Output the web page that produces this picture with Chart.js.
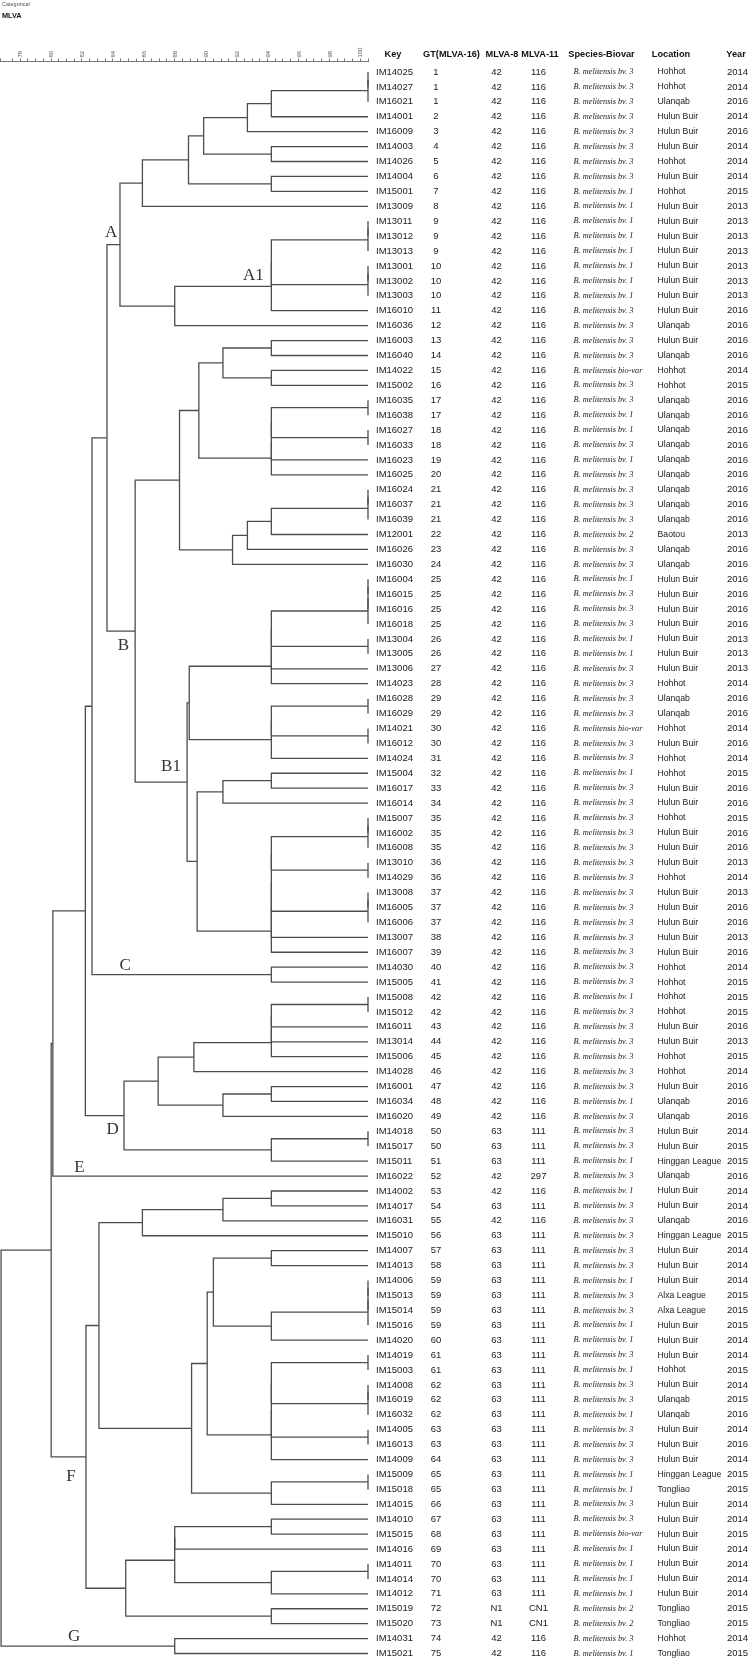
<!DOCTYPE html>
<html>
<head>
<meta charset="utf-8">
<script src="https://cdn.jsdelivr.net/npm/chart.js@4.4.1/dist/chart.umd.min.js"></script>
<style>
  html, body { margin: 0; padding: 0; background: #fff; }
  canvas { display: block; }
</style>
</head>
<body>
<canvas id="myChart" width="750" height="1660"></canvas>
<script>
// ---------------- data ----------------
const keys = ['IM14025','IM14027','IM16021','IM14001','IM16009','IM14003','IM14026','IM14004','IM15001','IM13009',
  'IM13011','IM13012','IM13013','IM13001','IM13002','IM13003','IM16010','IM16036','IM16003','IM16040',
  'IM14022','IM15002','IM16035','IM16038','IM16027','IM16033','IM16023','IM16025','IM16024','IM16037',
  'IM16039','IM12001','IM16026','IM16030','IM16004','IM16015','IM16016','IM16018','IM13004','IM13005',
  'IM13006','IM14023','IM16028','IM16029','IM14021','IM16012','IM14024','IM15004','IM16017','IM16014',
  'IM15007','IM16002','IM16008','IM13010','IM14029','IM13008','IM16005','IM16006','IM13007','IM16007',
  'IM14030','IM15005','IM15008','IM15012','IM16011','IM13014','IM15006','IM14028','IM16001','IM16034',
  'IM16020','IM14018','IM15017','IM15011','IM16022','IM14002','IM14017','IM16031','IM15010','IM14007',
  'IM14013','IM14006','IM15013','IM15014','IM15016','IM14020','IM14019','IM15003','IM14008','IM16019',
  'IM16032','IM14005','IM16013','IM14009','IM15009','IM15018','IM14015','IM14010','IM15015','IM14016',
  'IM14011','IM14014','IM14012','IM15019','IM15020','IM14031','IM15021'];

const gtTypes = [1,1,1,2,3,4,5,6,7,8, 9,9,9,10,10,10,11,12,13,14, 15,16,17,17,18,18,19,20,21,21,
  21,22,23,24,25,25,25,25,26,26, 27,28,29,29,30,30,31,32,33,34, 35,35,35,36,36,37,37,37,38,39,
  40,41,42,42,43,44,45,46,47,48, 49,50,50,51,52,53,54,55,56,57, 58,59,59,59,59,60,61,61,62,62,
  62,63,63,64,65,65,66,67,68,69, 70,70,71,72,73,74,75];

const mlva8 = ['42','42','42','42','42','42','42','42','42','42', '42','42','42','42','42','42','42','42','42','42',
  '42','42','42','42','42','42','42','42','42','42', '42','42','42','42','42','42','42','42','42','42',
  '42','42','42','42','42','42','42','42','42','42', '42','42','42','42','42','42','42','42','42','42',
  '42','42','42','42','42','42','42','42','42','42', '42','63','63','63','42','42','63','42','63','63',
  '63','63','63','63','63','63','63','63','63','63', '63','63','63','63','63','63','63','63','63','63',
  '63','63','63','N1','N1','42','42'];

const mlva11 = ['116','116','116','116','116','116','116','116','116','116', '116','116','116','116','116','116','116','116','116','116',
  '116','116','116','116','116','116','116','116','116','116', '116','116','116','116','116','116','116','116','116','116',
  '116','116','116','116','116','116','116','116','116','116', '116','116','116','116','116','116','116','116','116','116',
  '116','116','116','116','116','116','116','116','116','116', '116','111','111','111','297','116','111','116','111','111',
  '111','111','111','111','111','111','111','111','111','111', '111','111','111','111','111','111','111','111','111','111',
  '111','111','111','CN1','CN1','116','116'];

const biovars = ['bv. 3','bv. 3','bv. 3','bv. 3','bv. 3','bv. 3','bv. 3','bv. 3','bv. 1','bv. 1',
  'bv. 1','bv. 1','bv. 1','bv. 1','bv. 1','bv. 1','bv. 3','bv. 3','bv. 3','bv. 3',
  'bio-var','bv. 3','bv. 3','bv. 1','bv. 1','bv. 3','bv. 1','bv. 3','bv. 3','bv. 3',
  'bv. 3','bv. 2','bv. 3','bv. 3','bv. 1','bv. 3','bv. 3','bv. 3','bv. 1','bv. 1',
  'bv. 3','bv. 3','bv. 3','bv. 3','bio-var','bv. 3','bv. 3','bv. 1','bv. 3','bv. 3',
  'bv. 3','bv. 3','bv. 3','bv. 3','bv. 3','bv. 3','bv. 3','bv. 3','bv. 3','bv. 3',
  'bv. 3','bv. 3','bv. 1','bv. 3','bv. 3','bv. 3','bv. 3','bv. 3','bv. 3','bv. 1',
  'bv. 3','bv. 3','bv. 3','bv. 1','bv. 3','bv. 1','bv. 3','bv. 3','bv. 3','bv. 3',
  'bv. 3','bv. 1','bv. 3','bv. 3','bv. 1','bv. 1','bv. 3','bv. 1','bv. 3','bv. 3',
  'bv. 1','bv. 3','bv. 3','bv. 3','bv. 1','bv. 1','bv. 3','bv. 3','bio-var','bv. 1',
  'bv. 1','bv. 1','bv. 1','bv. 2','bv. 2','bv. 3','bv. 1'];

const locations = ['Hohhot','Hohhot','Ulanqab','Hulun Buir','Hulun Buir','Hulun Buir','Hohhot','Hulun Buir','Hohhot','Hulun Buir',
  'Hulun Buir','Hulun Buir','Hulun Buir','Hulun Buir','Hulun Buir','Hulun Buir','Hulun Buir','Ulanqab','Hulun Buir','Ulanqab',
  'Hohhot','Hohhot','Ulanqab','Ulanqab','Ulanqab','Ulanqab','Ulanqab','Ulanqab','Ulanqab','Ulanqab',
  'Ulanqab','Baotou','Ulanqab','Ulanqab','Hulun Buir','Hulun Buir','Hulun Buir','Hulun Buir','Hulun Buir','Hulun Buir',
  'Hulun Buir','Hohhot','Ulanqab','Ulanqab','Hohhot','Hulun Buir','Hohhot','Hohhot','Hulun Buir','Hulun Buir',
  'Hohhot','Hulun Buir','Hulun Buir','Hulun Buir','Hohhot','Hulun Buir','Hulun Buir','Hulun Buir','Hulun Buir','Hulun Buir',
  'Hohhot','Hohhot','Hohhot','Hohhot','Hulun Buir','Hulun Buir','Hohhot','Hohhot','Hulun Buir','Ulanqab',
  'Ulanqab','Hulun Buir','Hulun Buir','Hinggan League','Ulanqab','Hulun Buir','Hulun Buir','Ulanqab','Hinggan League','Hulun Buir',
  'Hulun Buir','Hulun Buir','Alxa League','Alxa League','Hulun Buir','Hulun Buir','Hulun Buir','Hohhot','Hulun Buir','Ulanqab',
  'Ulanqab','Hulun Buir','Hulun Buir','Hulun Buir','Hinggan League','Tongliao','Hulun Buir','Hulun Buir','Hulun Buir','Hulun Buir',
  'Hulun Buir','Hulun Buir','Hulun Buir','Tongliao','Tongliao','Hohhot','Tongliao'];

const years = [2014,2014,2016,2014,2016,2014,2014,2014,2015,2013, 2013,2013,2013,2013,2013,2013,2016,2016,2016,2016,
  2014,2015,2016,2016,2016,2016,2016,2016,2016,2016, 2016,2013,2016,2016,2016,2016,2016,2016,2013,2013,
  2013,2014,2016,2016,2014,2016,2014,2015,2016,2016, 2015,2016,2016,2013,2014,2013,2016,2016,2013,2016,
  2014,2015,2015,2015,2016,2013,2015,2014,2016,2016, 2016,2014,2015,2015,2016,2014,2014,2016,2015,2014,
  2014,2014,2015,2015,2015,2014,2014,2015,2014,2015, 2016,2014,2016,2014,2015,2015,2014,2014,2015,2014,
  2014,2014,2014,2015,2015,2014,2015];

// dendrogram merges: [name, left, right, similarity %]; numbers are leaf rows (1 = top)
const merges = [
  ['m1',1,2,100],['m2','m1',3,100],['m3','m2',4,93.75],['m4','m3',5,92.2],['m5',6,7,93.75],
  ['m6','m4','m5',89.37],['m7',8,9,93.75],['m8','m6','m7',88.39],['m9','m8',10,85.41],
  ['m10',11,12,100],['m11','m10',13,100],['m12',14,15,100],['m13','m12',16,100],
  ['m14','m11','m13',93.75],['m15','m14',17,93.75],['m16','m15',18,87.5],['m17','m9','m16',83.96],
  ['m18',19,20,93.75],['m19',21,22,93.75],['m20','m18','m19',90.62],['m21',23,24,100],['m22',25,26,100],
  ['m23','m21','m22',93.75],['m24','m23',27,93.75],['m25','m24',28,93.75],['m26','m20','m25',89.06],
  ['m27',29,30,100],['m28','m27',31,100],['m29','m28',32,93.75],['m30','m29',33,92.2],['m31','m30',34,91.24],
  ['m32','m26','m31',87.81],
  ['m33',35,36,100],['m34','m33',37,100],['m35','m34',38,100],['m36',39,40,100],['m37','m35','m36',93.75],
  ['m38','m37',41,93.75],['m39','m38',42,93.75],['m40',43,44,100],['m41',45,46,100],['m42','m40','m41',93.75],
  ['m43','m42',47,93.75],['m44','m39','m43',88.44],['m45',48,49,93.75],['m46','m45',50,90.62],
  ['m47',51,52,100],['m48','m47',53,100],['m49',54,55,100],['m50',56,57,100],['m51','m50',58,100],
  ['m52','m48','m49',93.75],['m53','m52','m51',93.75],['m54','m53',59,93.75],['m55','m54',60,93.75],
  ['m56','m46','m55',88.95],['m57','m44','m56',88.3],['m58','m32','m57',84.94],['m59','m17','m58',83.12],
  ['m60',61,62,93.75],['m61','m59','m60',82.15],
  ['m62',63,64,100],['m63','m62',65,93.75],['m64','m63',66,93.75],['m65','m64',67,93.75],['m66','m65',68,88.74],
  ['m67',69,70,93.75],['m68','m67',71,90.62],['m69','m66','m68',86.43],['m70',72,73,100],['m71','m70',74,93.75],
  ['m72','m69','m71',84.22],['m73','m61','m72',81.72],['m74','m73',75,79.62],
  ['m75',76,77,93.75],['m76','m75',78,90.62],['m77','m76',79,85.41],['m78',80,81,93.75],
  ['m79',82,83,100],['m80','m79',84,100],['m81','m80',85,100],['m82','m81',86,93.75],['m83','m78','m82',90.0],
  ['m84',87,88,100],['m85',89,90,100],['m86','m85',91,100],['m87',92,93,100],['m88','m84','m86',93.75],
  ['m89','m88','m87',93.75],['m90','m89',94,93.75],['m91','m83','m90',89.6],['m92',95,96,100],
  ['m93','m92',97,93.75],['m94','m91','m93',88.59],['m95','m77','m94',82.6],['m96',98,99,93.75],
  ['m97',101,102,100],['m98','m97',103,93.75],['m99','m96',100,87.5],['m100','m99','m98',87.5],
  ['m101',104,105,93.75],['m102','m100','m101',84.33],['m103','m95','m102',81.76],['m104','m74','m103',79.51],
  ['m105',106,107,87.5],['m106','m104','m105',76.27]
];

// cluster labels (similarity, row)
const cladeNames = ['A','A1','B','B1','C','D','E','F','G'];
const cladeX = [83.38, 92.58, 84.18, 87.26, 84.29, 83.49, 81.33, 80.79, 80.99];
const cladeRow = [11.79, 14.65, 39.47, 47.56, 60.9, 71.91, 74.44, 95.15, 105.87];

const headers = ['Key','GT(MLVA-16)','MLVA-8','MLVA-11','Species-Biovar','Location','Year'];

// ---------------- build tree segments ----------------
const nodePos = {};
function pos(ref) {
  if (typeof ref === 'number') return { x: 100, y: ref };
  return nodePos[ref];
}
const treeSets = [];
merges.forEach(m => {
  const a = pos(m[1]);
  const b = pos(m[2]);
  const s = m[3];
  nodePos[m[0]] = { x: s, y: (a.y + b.y) / 2 };
  treeSets.push({
    data: [{ x: a.x, y: a.y }, { x: s, y: a.y }, { x: s, y: b.y }, { x: b.x, y: b.y }],
    showLine: true,
    borderColor: '#4d4d4d',
    borderWidth: 1.3,
    pointRadius: 0,
    tension: 0,
    clip: false
  });
});

// ---------------- text plugin ----------------
const tableText = {
  id: 'tableText',
  afterDraw(chart) {
    const ctx = chart.ctx;
    const xs = chart.scales.x;
    const ys = chart.scales.y;
    ctx.save();
    ctx.textBaseline = 'middle';

    // title
    ctx.fillStyle = '#555';
    ctx.font = '5.5px "Liberation Sans", Arial, sans-serif';
    ctx.textAlign = 'left';
    ctx.fillText('Categorical', 2, 4);
    ctx.fillStyle = '#111';
    ctx.font = 'bold 7.3px "Liberation Sans", Arial, sans-serif';
    ctx.fillText('MLVA', 2, 16);

    // headers
    const headX = [393, 451.5, 502, 540, 601.5, 671, 736];
    ctx.font = 'bold 9.2px "Liberation Sans", Arial, sans-serif';
    ctx.textAlign = 'center';
    headers.forEach((h, i) => ctx.fillText(h, headX[i], 54.5));

    // rows
    keys.forEach((k, i) => {
      const y = ys.getPixelForValue(i + 1);
      ctx.fillStyle = '#1a1a1a';
      ctx.font = '9.5px "Liberation Sans", Arial, sans-serif';
      ctx.textAlign = 'left';
      ctx.fillText(k, 376, y);
      ctx.fillText(String(years[i]), 727, y);
      ctx.textAlign = 'center';
      ctx.fillText(String(gtTypes[i]), 436, y);
      ctx.fillText(mlva8[i], 496.5, y);
      ctx.fillText(mlva11[i], 538.5, y);
      ctx.textAlign = 'left';
      ctx.font = '8.7px "Liberation Sans", Arial, sans-serif';
      ctx.fillText(locations[i], 657.5, y);
      ctx.font = 'italic 8.3px "Liberation Serif", "Times New Roman", serif';
      ctx.fillText('B. melitensis ' + biovars[i], 573.5, y);
    });

    // clade labels
    ctx.fillStyle = '#333';
    ctx.font = '17px "Liberation Serif", "Times New Roman", serif';
    ctx.textAlign = 'center';
    cladeNames.forEach((c, i) => {
      ctx.fillText(c, xs.getPixelForValue(cladeX[i]), ys.getPixelForValue(cladeRow[i]));
    });
    ctx.restore();
  }
};

// ---------------- chart ----------------
const ctx = document.getElementById('myChart');
new Chart(ctx, {
  type: 'scatter',
  data: { datasets: treeSets },
  options: {
    responsive: false,
    animation: false,
    events: [],
    layout: { padding: { top: 47.5, left: 0, right: 382, bottom: 0 } },
    plugins: { legend: { display: false }, tooltip: { enabled: false } },
    scales: {
      x: {
        type: 'linear',
        position: 'top',
        min: 76.2,
        max: 100,
        afterFit(scale) {
          scale.height = 14;
          scale.paddingLeft = 0;
          scale.paddingRight = 0;
        },
        ticks: {
          stepSize: 0.5,
          autoSkip: false,
          minRotation: 90,
          maxRotation: 90,
          padding: 1,
          color: '#555',
          font: { size: 6, family: '"Liberation Sans", Arial, sans-serif' },
          callback: (v) => (v >= 78 && Math.abs(v % 2) < 1e-6) ? String(v) : ''
        },
        grid: {
          drawOnChartArea: false,
          drawTicks: true,
          tickLength: 3,
          color: '#777'
        },
        border: { display: true, color: '#777', width: 1 }
      },
      y: {
        type: 'linear',
        reverse: true,
        min: 0.2962,
        max: 107.4357,
        display: false
      }
    }
  },
  plugins: [tableText]
});
</script>
</body>
</html>
